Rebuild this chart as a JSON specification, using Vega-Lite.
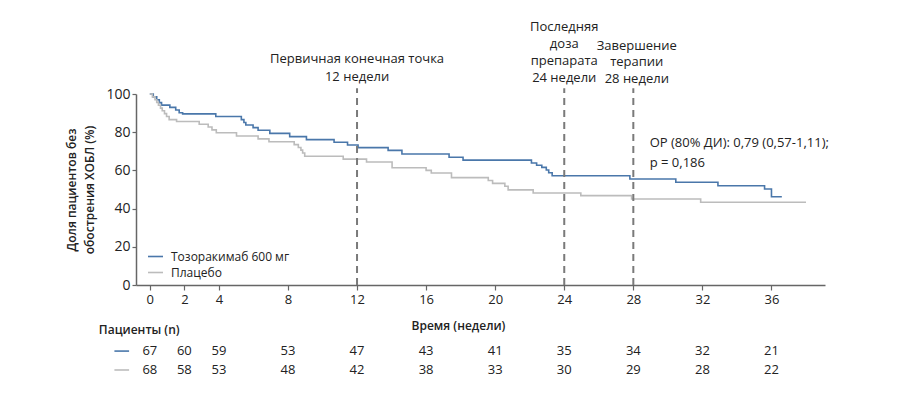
{
  "$schema": "https://vega.github.io/schema/vega-lite/v6.json",
  "width": 689,
  "height": 191,
  "autosize": {"type": "none"},
  "padding": {"left": 136, "top": 94, "right": 75, "bottom": 115},
  "background": "white",
  "config": {
    "view": {"stroke": null},
    "font": "Open Sans",
    "text": {"font": "Open Sans", "color": "#222222"},
    "axis": {"labelOverlap": false},
    "axisY": {"labelOverlap": false, "labelFlush": false},
    "axisQuantitative": {"labelOverlap": false}
  },
  "datasets": {
    "km": [
      {"group": "Тозоракимаб 600 мг", "week": 0, "surv": 100},
      {"group": "Тозоракимаб 600 мг", "week": 0.2, "surv": 98.5},
      {"group": "Тозоракимаб 600 мг", "week": 0.4, "surv": 97},
      {"group": "Тозоракимаб 600 мг", "week": 0.55, "surv": 95.5},
      {"group": "Тозоракимаб 600 мг", "week": 0.68, "surv": 94.2},
      {"group": "Тозоракимаб 600 мг", "week": 1.16, "surv": 93.0},
      {"group": "Тозоракимаб 600 мг", "week": 1.5, "surv": 91.6},
      {"group": "Тозоракимаб 600 мг", "week": 1.7, "surv": 90.2},
      {"group": "Тозоракимаб 600 мг", "week": 1.9, "surv": 89.6},
      {"group": "Тозоракимаб 600 мг", "week": 3.82, "surv": 88.2},
      {"group": "Тозоракимаб 600 мг", "week": 5.3, "surv": 86.6},
      {"group": "Тозоракимаб 600 мг", "week": 5.45, "surv": 85.1},
      {"group": "Тозоракимаб 600 мг", "week": 5.56, "surv": 83.8},
      {"group": "Тозоракимаб 600 мг", "week": 5.98, "surv": 82.4},
      {"group": "Тозоракимаб 600 мг", "week": 6.27, "surv": 81.0},
      {"group": "Тозоракимаб 600 мг", "week": 6.95, "surv": 79.4},
      {"group": "Тозоракимаб 600 мг", "week": 8.1, "surv": 77.7},
      {"group": "Тозоракимаб 600 мг", "week": 9.07, "surv": 76.1},
      {"group": "Тозоракимаб 600 мг", "week": 10.67, "surv": 74.7},
      {"group": "Тозоракимаб 600 мг", "week": 11.45, "surv": 73.3},
      {"group": "Тозоракимаб 600 мг", "week": 12.06, "surv": 71.9},
      {"group": "Тозоракимаб 600 мг", "week": 13.8, "surv": 70.5},
      {"group": "Тозоракимаб 600 мг", "week": 14.6, "surv": 68.6},
      {"group": "Тозоракимаб 600 мг", "week": 17.33, "surv": 66.9},
      {"group": "Тозоракимаб 600 мг", "week": 18.14, "surv": 65.4},
      {"group": "Тозоракимаб 600 мг", "week": 22.1, "surv": 63.9},
      {"group": "Тозоракимаб 600 мг", "week": 22.4, "surv": 62.7},
      {"group": "Тозоракимаб 600 мг", "week": 22.7, "surv": 61.6},
      {"group": "Тозоракимаб 600 мг", "week": 22.96, "surv": 60.2},
      {"group": "Тозоракимаб 600 мг", "week": 23.1, "surv": 58.8},
      {"group": "Тозоракимаб 600 мг", "week": 23.3, "surv": 57.2},
      {"group": "Тозоракимаб 600 мг", "week": 27.8, "surv": 55.5},
      {"group": "Тозоракимаб 600 мг", "week": 30.46, "surv": 53.8},
      {"group": "Тозоракимаб 600 мг", "week": 32.9, "surv": 52.0},
      {"group": "Тозоракимаб 600 мг", "week": 35.6, "surv": 50.3},
      {"group": "Тозоракимаб 600 мг", "week": 36.0, "surv": 46.2},
      {"group": "Тозоракимаб 600 мг", "week": 36.6, "surv": 46.2},
      {"group": "Плацебо", "week": 0, "surv": 100},
      {"group": "Плацебо", "week": 0.15, "surv": 98.5},
      {"group": "Плацебо", "week": 0.3, "surv": 97},
      {"group": "Плацебо", "week": 0.4, "surv": 95.6},
      {"group": "Плацебо", "week": 0.5, "surv": 94.1},
      {"group": "Плацебо", "week": 0.62, "surv": 92.6},
      {"group": "Плацебо", "week": 0.72, "surv": 91.2},
      {"group": "Плацебо", "week": 0.85, "surv": 89.7},
      {"group": "Плацебо", "week": 0.97, "surv": 88.2},
      {"group": "Плацебо", "week": 1.12, "surv": 86.6},
      {"group": "Плацебо", "week": 1.55, "surv": 85.6},
      {"group": "Плацебо", "week": 2.86, "surv": 84.2},
      {"group": "Плацебо", "week": 3.38, "surv": 82.7},
      {"group": "Плацебо", "week": 3.6, "surv": 81.2},
      {"group": "Плацебо", "week": 3.85, "surv": 79.7},
      {"group": "Плацебо", "week": 5.02, "surv": 78.0},
      {"group": "Плацебо", "week": 6.27, "surv": 76.5},
      {"group": "Плацебо", "week": 6.9, "surv": 75.0},
      {"group": "Плацебо", "week": 8.36, "surv": 73.5},
      {"group": "Плацебо", "week": 8.6, "surv": 72.0},
      {"group": "Плацебо", "week": 8.75, "surv": 70.6},
      {"group": "Плацебо", "week": 8.85, "surv": 69.1},
      {"group": "Плацебо", "week": 8.97, "surv": 67.4},
      {"group": "Плацебо", "week": 11.2, "surv": 65.9},
      {"group": "Плацебо", "week": 12.55, "surv": 64.4},
      {"group": "Плацебо", "week": 14.03, "surv": 61.4},
      {"group": "Плацебо", "week": 16.0, "surv": 60.0},
      {"group": "Плацебо", "week": 16.3, "surv": 58.6},
      {"group": "Плацебо", "week": 17.47, "surv": 56.2},
      {"group": "Плацебо", "week": 19.6, "surv": 54.7},
      {"group": "Плацебо", "week": 19.85, "surv": 53.2},
      {"group": "Плацебо", "week": 20.56, "surv": 51.7},
      {"group": "Плацебо", "week": 20.75, "surv": 49.8},
      {"group": "Плацебо", "week": 22.2, "surv": 48.2},
      {"group": "Плацебо", "week": 24.96, "surv": 46.8},
      {"group": "Плацебо", "week": 27.9, "surv": 45.0},
      {"group": "Плацебо", "week": 31.9, "surv": 43.3},
      {"group": "Плацебо", "week": 38.0, "surv": 43.3}
    ],
    "risk": [
      {"group": "Тозоракимаб 600 мг", "week": 0, "n": 67},
      {"group": "Тозоракимаб 600 мг", "week": 2, "n": 60},
      {"group": "Тозоракимаб 600 мг", "week": 4, "n": 59},
      {"group": "Тозоракимаб 600 мг", "week": 8, "n": 53},
      {"group": "Тозоракимаб 600 мг", "week": 12, "n": 47},
      {"group": "Тозоракимаб 600 мг", "week": 16, "n": 43},
      {"group": "Тозоракимаб 600 мг", "week": 20, "n": 41},
      {"group": "Тозоракимаб 600 мг", "week": 24, "n": 35},
      {"group": "Тозоракимаб 600 мг", "week": 28, "n": 34},
      {"group": "Тозоракимаб 600 мг", "week": 32, "n": 32},
      {"group": "Тозоракимаб 600 мг", "week": 36, "n": 21},
      {"group": "Плацебо", "week": 0, "n": 68},
      {"group": "Плацебо", "week": 2, "n": 58},
      {"group": "Плацебо", "week": 4, "n": 53},
      {"group": "Плацебо", "week": 8, "n": 48},
      {"group": "Плацебо", "week": 12, "n": 42},
      {"group": "Плацебо", "week": 16, "n": 38},
      {"group": "Плацебо", "week": 20, "n": 33},
      {"group": "Плацебо", "week": 24, "n": 30},
      {"group": "Плацебо", "week": 28, "n": 29},
      {"group": "Плацебо", "week": 32, "n": 28},
      {"group": "Плацебо", "week": 36, "n": 22}
    ],
    "milestones": [
      {"week": 12},
      {"week": 24},
      {"week": 28}
    ]
  },
  "encoding": {
    "y": {
      "type": "quantitative",
      "scale": {"domain": [0, 100], "nice": false},
      "axis": {
        "values": [0, 20, 40, 60, 80, 100],
        "grid": false,
        "labelOverlap": false,
        "domainColor": "#666666",
        "domainWidth": 1.5,
        "tickColor": "#666666",
        "tickSize": 4,
        "tickWidth": 1.2,
        "labelFontSize": 14,
        "labelColor": "#222222",
        "labelPadding": 2,
        "labelFont": "Open Sans",
        "title": ["Доля пациентов без", "обострения ХОБЛ (%)"],
        "titleFont": "Open Sans",
        "titleFontSize": 12,
        "titleFontWeight": 600,
        "titleColor": "#222222",
        "titlePadding": 9,
        "titleLineHeight": 18
      }
    }
  },
  "layer": [
    {
      "data": {"name": "km"},
      "mark": {"type": "line", "interpolate": "step-after", "strokeWidth": 1.6, "clip": false},
      "encoding": {
        "x": {
          "field": "week",
          "type": "quantitative",
          "scale": {"domain": [-0.8, 39.1], "nice": false, "zero": false},
          "axis": {
            "values": [0, 2, 4, 8, 12, 16, 20, 24, 28, 32, 36],
            "grid": false,
            "labelOverlap": false,
            "domainColor": "#666666",
            "domainWidth": 1.5,
            "tickColor": "#666666",
            "tickSize": 5,
            "tickWidth": 1.2,
            "labelFontSize": 13,
            "labelColor": "#222222",
            "labelPadding": 3,
            "labelFont": "Open Sans",
            "title": "Время (недели)",
            "titleFont": "Open Sans",
            "titleFontSize": 12,
            "titleFontWeight": 600,
            "titleColor": "#222222",
            "titleX": 322,
            "titleY": 40,
            "titleBaseline": "middle",
            "titleAnchor": null
          }
        },
        "y": {"field": "surv"},
        "color": {
          "field": "group",
          "type": "nominal",
          "sort": ["Тозоракимаб 600 мг", "Плацебо"],
          "scale": {"domain": ["Тозоракимаб 600 мг", "Плацебо"], "range": ["#4a77aa", "#bcbcbc"]},
          "legend": {
            "title": null,
            "orient": "none",
            "legendX": 11,
            "legendY": 154,
            "padding": 0,
            "symbolType": "stroke",
            "symbolSize": 225,
            "symbolStrokeWidth": 1.6,
            "labelFontSize": 12,
            "labelFont": "Open Sans",
            "labelColor": "#222222",
            "labelOffset": 7,
            "rowPadding": 1,
            "labelLimit": 300
          }
        }
      }
    },
    {
      "data": {"name": "milestones"},
      "mark": {"type": "rule", "color": "#7a7a7a", "strokeWidth": 2, "strokeDash": [7, 5]},
      "encoding": {
        "x": {"field": "week", "type": "quantitative"},
        "y": {"datum": 0},
        "y2": {"datum": 103}
      }
    },
    {
      "data": {"values": [{}]},
      "mark": {"type": "text", "align": "center", "baseline": "bottom", "fontSize": 13, "lineHeight": 18, "text": ["Первичная конечная точка", "12 недели"]},
      "encoding": {"x": {"datum": 12}, "y": {"datum": 114.4}}
    },
    {
      "data": {"values": [{}]},
      "mark": {"type": "text", "align": "center", "baseline": "bottom", "fontSize": 13, "lineHeight": 16.7, "text": ["Последняя", "доза", "препарата", "24 недели"]},
      "encoding": {"x": {"datum": 24}, "y": {"datum": 131.2}}
    },
    {
      "data": {"values": [{}]},
      "mark": {"type": "text", "align": "center", "baseline": "bottom", "fontSize": 13, "lineHeight": 16.5, "text": ["Завершение", "терапии", "28 недели"]},
      "encoding": {"x": {"datum": 28.2}, "y": {"datum": 121.7}}
    },
    {
      "data": {"values": [{}]},
      "mark": {"type": "text", "align": "left", "baseline": "middle", "fontSize": 13, "lineHeight": 20, "text": ["ОР (80% ДИ): 0,79 (0,57-1,11);", "p = 0,186"]},
      "encoding": {"x": {"datum": 28.95}, "y": {"datum": 74.3}}
    },
    {
      "data": {"values": [{}]},
      "mark": {"type": "text", "align": "left", "baseline": "middle", "fontSize": 12, "fontWeight": 600, "text": "Пациенты (n)"},
      "encoding": {"x": {"datum": -2.95}, "y": {"datum": -23.5}}
    },
    {
      "data": {"name": "risk"},
      "transform": [{"filter": "datum.group === 'Тозоракимаб 600 мг'"}],
      "mark": {"type": "text", "align": "center", "baseline": "middle", "fontSize": 13},
      "encoding": {
        "x": {"field": "week", "type": "quantitative"},
        "y": {"datum": -34.6},
        "text": {"field": "n", "type": "quantitative"}
      }
    },
    {
      "data": {"name": "risk"},
      "transform": [{"filter": "datum.group === 'Плацебо'"}],
      "mark": {"type": "text", "align": "center", "baseline": "middle", "fontSize": 13},
      "encoding": {
        "x": {"field": "week", "type": "quantitative"},
        "y": {"datum": -44.5},
        "text": {"field": "n", "type": "quantitative"}
      }
    },
    {
      "data": {"values": [{}]},
      "mark": {"type": "rule", "color": "#4a77aa", "strokeWidth": 1.6},
      "encoding": {"x": {"datum": -2.05}, "x2": {"datum": -1.2}, "y": {"datum": -34.6}}
    },
    {
      "data": {"values": [{}]},
      "mark": {"type": "rule", "color": "#bcbcbc", "strokeWidth": 1.6},
      "encoding": {"x": {"datum": -2.05}, "x2": {"datum": -1.2}, "y": {"datum": -44.5}}
    }
  ]
}
